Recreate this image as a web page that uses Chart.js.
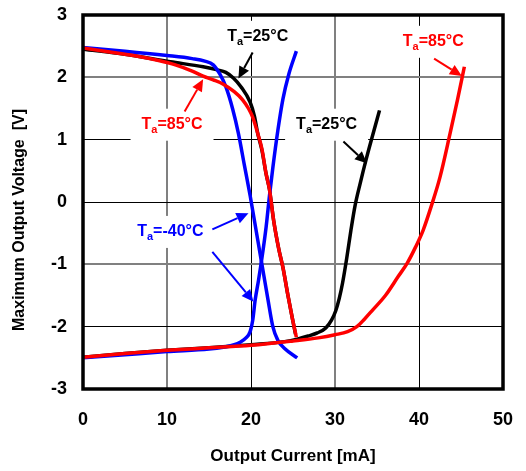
<!DOCTYPE html>
<html lang="en">
<head>
  <meta charset="UTF-8">
  <title>Maximum Output Voltage vs Output Current</title>
  <script src="https://cdn.jsdelivr.net/npm/chart.js"></script>
  <style>
    html, body { margin: 0; padding: 0; background: #fff; }
    #wrap { width: 526px; height: 471px; }
  </style>
</head>
<body>
  <div id="wrap"><canvas id="chart" width="526" height="471"></canvas></div>

  <script>
    // Ta = -40°C
    const curHighM40 = [0, 5, 10, 13, 14.5, 15.5, 16.3, 17, 17.8, 18.5, 19.2, 19.9, 20.6, 21.3, 22.0, 22.6, 23.2, 24.0, 25.5];
    const voltHighM40 = [2.48, 2.42, 2.35, 2.3, 2.26, 2.2, 2.05, 1.85, 1.5, 1.1, 0.6, 0.1, -0.45, -1.0, -1.55, -2.0, -2.22, -2.35, -2.5];
    const curLowM40 = [0, 5, 10, 15, 16.7, 18, 18.7, 19.4, 19.9, 20.2, 20.5, 20.9, 21.3, 21.8, 22.2, 22.6, 23.2, 23.8, 24.5, 25.4];
    const voltLowM40 = [-2.5, -2.45, -2.4, -2.36, -2.33, -2.29, -2.25, -2.18, -2.08, -1.9, -1.57, -1.25, -0.9, -0.4, 0.1, 0.55, 1.15, 1.65, 2.05, 2.42];

    // Ta = 25°C
    const curHigh25 = [0, 5, 10.4, 14.3, 16, 17, 17.9, 18.8, 19.9, 20.4, 20.8, 21.3, 21.8, 22.2, 22.7, 23.3, 23.8, 24.4, 24.9, 25.3];
    const voltHigh25 = [2.45, 2.37, 2.25, 2.17, 2.12, 2.08, 1.99, 1.85, 1.6, 1.38, 1.1, 0.83, 0.45, 0.2, -0.3, -0.75, -1.05, -1.5, -1.85, -2.12];
    const curLow25 = [0, 5, 10, 15, 20, 24, 25.5, 26.8, 27.9, 28.9, 29.6, 30.1, 30.5, 30.9, 31.4, 31.9, 32.4, 33.0, 33.7, 34.5, 35.3];
    const voltLow25 = [-2.49, -2.43, -2.38, -2.34, -2.29, -2.24, -2.2, -2.15, -2.1, -2.02, -1.89, -1.74, -1.55, -1.3, -0.9, -0.45, -0.05, 0.3, 0.68, 1.08, 1.47];

    // Ta = 85°C
    const curHigh85 = [0, 3, 6, 9, 11, 13, 14.3, 15.5, 16.7, 18, 19, 19.7, 20.2, 20.8, 21.3, 21.8, 22.2, 22.7, 23.3, 23.8, 24.4, 24.9, 25.4];
    const voltHigh85 = [2.47, 2.41, 2.35, 2.27, 2.2, 2.1, 2.02, 1.96, 1.89, 1.77, 1.64, 1.5, 1.36, 1.1, 0.85, 0.45, 0.2, -0.3, -0.75, -1.05, -1.5, -1.85, -2.17];
    const curLow85 = [0, 5, 10, 15, 20, 25, 28, 30, 31.5, 32.6, 33.5, 34.5, 36, 37.5, 38.6, 39.6, 40.5, 41.5, 42.5, 43.7, 44.6, 45.4];
    const voltLow85 = [-2.49, -2.43, -2.38, -2.34, -2.3, -2.23, -2.18, -2.13, -2.08, -2.0, -1.88, -1.73, -1.5, -1.2, -0.98, -0.72, -0.45, -0.05, 0.4, 1.1, 1.65, 2.17];

    const xTicks = [0, 10, 20, 30, 40, 50];
    const yTicks = [-3, -2, -1, 0, 1, 2, 3];

    const FONT = "'Liberation Sans', Arial, sans-serif";

    function pts(xs, ys) {
      return xs.map((x, i) => ({ x: x, y: ys[i] }));
    }

    function line(data, color) {
      return {
        data: data,
        borderColor: color,
        borderWidth: 3.5,
        pointRadius: 0,
        fill: false,
        showLine: true,
        cubicInterpolationMode: 'monotone'
      };
    }

    // labels with arrows, in data units
    const notes = [
      { temp: '=25°C', color: '#000000', x: 20.8, y: 2.65, arrows: [[20.2, 2.40, 18.5, 1.98]] },
      { temp: '=85°C', color: '#ff0000', x: 10.6, y: 1.24, arrows: [[12.1, 1.45, 14.3, 1.97]] },
      { temp: '=25°C', color: '#000000', x: 29.0, y: 1.24, arrows: [[31.0, 0.97, 33.8, 0.62]] },
      { temp: '=85°C', color: '#ff0000', x: 41.7, y: 2.57, arrows: [[41.8, 2.30, 45.1, 2.02]] },
      { temp: '=-40°C', color: '#0000ff', x: 10.4, y: -0.48, arrows: [[15.4, -0.44, 19.7, -0.18], [15.4, -0.80, 20.3, -1.60]] }
    ];

    function labelWidth(ctx, temp) {
      ctx.font = 'bold 16px ' + FONT;
      let w = ctx.measureText('T').width + ctx.measureText(temp).width;
      ctx.font = 'bold 11px ' + FONT;
      return w + ctx.measureText('a').width;
    }

    const notePlugin = {
      id: 'notes',
      beforeDatasetsDraw(chart) {
        const ctx = chart.ctx;
        const xs = chart.scales.x, ys = chart.scales.y;
        ctx.save();
        ctx.fillStyle = '#ffffff';
        notes.forEach(n => {
          const w = labelWidth(ctx, n.temp) + 22;
          const cx = xs.getPixelForValue(n.x), cy = ys.getPixelForValue(n.y);
          ctx.fillRect(cx - w / 2, cy - 16, w, 32);
        });
        ctx.restore();
      },
      afterDatasetsDraw(chart) {
        const ctx = chart.ctx;
        const xs = chart.scales.x, ys = chart.scales.y;
        const a = chart.chartArea;
        ctx.save();

        // frame
        ctx.strokeStyle = '#000';
        ctx.lineWidth = 3.5;
        ctx.strokeRect(a.left, a.top, a.right - a.left, a.bottom - a.top);

        notes.forEach(n => {
          const cx = xs.getPixelForValue(n.x), cy = ys.getPixelForValue(n.y);
          const w = labelWidth(ctx, n.temp);
          let px = cx - w / 2;
          ctx.fillStyle = n.color;
          ctx.textBaseline = 'middle';
          ctx.textAlign = 'left';
          ctx.font = 'bold 16px ' + FONT;
          ctx.fillText('T', px, cy);
          px += ctx.measureText('T').width;
          ctx.font = 'bold 11px ' + FONT;
          ctx.fillText('a', px, cy + 5);
          px += ctx.measureText('a').width;
          ctx.font = 'bold 16px ' + FONT;
          ctx.fillText(n.temp, px, cy);

          // arrows
          ctx.strokeStyle = n.color;
          ctx.lineWidth = 2;
          n.arrows.forEach(ar => {
            const x1 = xs.getPixelForValue(ar[0]), y1 = ys.getPixelForValue(ar[1]);
            const x2 = xs.getPixelForValue(ar[2]), y2 = ys.getPixelForValue(ar[3]);
            const ang = Math.atan2(y2 - y1, x2 - x1);
            const hl = 12, hw = 5.5;
            const bx = x2 - hl * Math.cos(ang), by = y2 - hl * Math.sin(ang);
            ctx.beginPath();
            ctx.moveTo(x1, y1);
            ctx.lineTo(bx, by);
            ctx.stroke();
            ctx.beginPath();
            ctx.moveTo(x2, y2);
            ctx.lineTo(bx + hw * Math.sin(ang), by - hw * Math.cos(ang));
            ctx.lineTo(bx - hw * Math.sin(ang), by + hw * Math.cos(ang));
            ctx.closePath();
            ctx.fill();
          });
        });

        // y axis title
        ctx.fillStyle = '#000';
        ctx.font = 'bold 16px ' + FONT;
        ctx.textAlign = 'center';
        ctx.textBaseline = 'middle';
        ctx.translate(20, (a.top + a.bottom) / 2 + 18);
        ctx.rotate(-Math.PI / 2);
        ctx.fillText('Maximum Output Voltage  [V]', 0, 0);
        ctx.restore();
      }
    };

    function gridColor(v, grayVals) {
      return grayVals.includes(v) ? '#808080' : '#000000';
    }

    new Chart(document.getElementById('chart'), {
      type: 'scatter',
      data: {
        datasets: [
          line(pts(curHigh85, voltHigh85), '#ff0000'),
          line(pts(curLow85, voltLow85), '#ff0000'),
          line(pts(curHighM40, voltHighM40), '#0000ff'),
          line(pts(curLowM40, voltLowM40), '#0000ff'),
          line(pts(curHigh25, voltHigh25), '#000000'),
          line(pts(curLow25, voltLow25), '#000000')
        ]
      },
      options: {
        responsive: false,
        animation: false,
        devicePixelRatio: 1,
        layout: { padding: { top: 15, right: 23, left: 0, bottom: 0 } },
        plugins: { legend: { display: false }, tooltip: { enabled: false } },
        scales: {
          x: {
            type: 'linear',
            min: 0,
            max: 50,
            afterBuildTicks: s => { s.ticks = xTicks.map(v => ({ value: v })); },
            afterFit: s => { s.height = 82; s.paddingLeft = 0; s.paddingRight = 0; },
            border: { display: false },
            grid: {
              drawTicks: false,
              color: c => gridColor(c.tick.value, [10, 30]),
              lineWidth: c => ([10, 30].includes(c.tick.value) ? 2 : 1)
            },
            ticks: { color: '#000', padding: 20, font: { family: FONT, size: 18, weight: 'bold' } },
            title: {
              display: true,
              text: 'Output Current [mA]',
              color: '#000',
              padding: { top: 0, bottom: 4 },
              font: { family: FONT, size: 17, weight: 'bold' }
            }
          },
          y: {
            type: 'linear',
            min: -3,
            max: 3,
            afterBuildTicks: s => { s.ticks = yTicks.map(v => ({ value: v })); },
            afterFit: s => { s.width = 83; s.paddingTop = 0; s.paddingBottom = 0; },
            border: { display: false },
            grid: {
              drawTicks: false,
              color: c => gridColor(c.tick.value, [2, -1]),
              lineWidth: c => ([2, -1].includes(c.tick.value) ? 2 : 1)
            },
            ticks: { color: '#000', padding: 16, font: { family: FONT, size: 18, weight: 'bold' } }
          }
        }
      },
      plugins: [notePlugin]
    });
  </script>
</body>
</html>
